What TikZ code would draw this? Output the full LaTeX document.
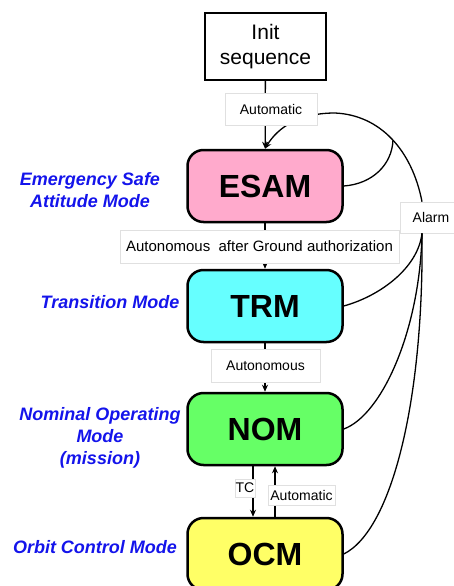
\documentclass[tikz,border=0pt]{standalone}
\usepackage{fontspec}
\setmainfont{Liberation Sans}
\usetikzlibrary{arrows.meta}
\definecolor{esampink}{RGB}{255,170,204}
\definecolor{trmcyan}{RGB}{102,255,255}
\definecolor{nomgreen}{RGB}{102,255,102}
\definecolor{ocmyellow}{RGB}{255,255,102}
\definecolor{modeblue}{RGB}{20,20,235}

\begin{document}
\begin{tikzpicture}[x=1pt, y=-1pt, >={Stealth[length=7pt,width=6pt]},
  mode/.style={draw, line width=2.5pt, rounded corners=16pt, minimum width=155pt,
    minimum height=72pt, inner sep=0pt, font=\fontsize{32}{36}\selectfont\bfseries},
  lbl/.style={draw=black!12, line width=0.6pt, fill=white, inner sep=0pt,
    font=\fontsize{14}{16}\selectfont},
  side/.style={text=modeblue, align=center, font=\fontsize{18}{22}\selectfont\bfseries\itshape},
  link/.style={line width=1.3pt}]
  \useasboundingbox (0,0) rectangle (453,586);
  \node[draw, line width=2pt, minimum width=121pt, minimum height=67pt, inner sep=0pt,
    align=center, font=\fontsize{21}{25}\selectfont] (init) at (265.5,46.5) {Init\\sequence};
  \node[mode, fill=esampink]  (esam) at (265,186) {ESAM};
  \node[mode, fill=trmcyan]   (trm)  at (265,306) {TRM};
  \node[mode, fill=nomgreen]  (nom)  at (265,429) {NOM};
  \node[mode, fill=ocmyellow] (ocm)  at (265,554) {OCM};
  \node[lbl, minimum width=62pt, minimum height=31pt] (alarm) at (431,217.5) {Alarm};
  % mode names
  \node[side] (esaml) at (90,190)  {Emergency Safe\\Attitude Mode};
  \node[side] (trml)  at (110,302) {Transition Mode};
  \node[side] (noml)  at (100,438) {Nominal Operating\\Mode\\(mission)};
  \node[side] (ocml)  at (95,547)  {Orbit Control Mode};
  % transitions
  \draw[link,->] (init) -- (esam);
  \draw[link,->] (esam) -- (trm);
  \draw[link,->] (trm) -- (nom);
  \draw[link,->] ([xshift=-12pt]nom.south) -- ([xshift=-12pt]ocm.north);
  \draw[link,->] ([xshift=10pt]ocm.north) -- ([xshift=10pt]nom.south);
  % alarm paths
  \coordinate (merge) at (393,140);
  \draw[link] (esam.east) .. controls (372,184) and (392,165) .. (merge);
  \draw[link] (trm.east) .. controls (380,296) and (418,268) .. ([xshift=-9pt]alarm.south);
  \draw[link] (nom.east) .. controls (382,415) and (420,330) .. ([xshift=-9pt]alarm.south);
  \draw[link] (ocm.east) .. controls (392,530) and (424,400) .. ([xshift=-9pt]alarm.south);
  \draw[link,->] ([xshift=-9pt]alarm.north) .. controls (412,150) and (380,115) .. (335,113)
    .. controls (300,113) and (278,127) .. (esam.north);
  % labels
  \node[lbl, minimum width=92pt, minimum height=32pt]  (auto1) at (271,109)     {Automatic};
  \node[lbl, minimum width=279pt, minimum height=33pt, font=\fontsize{15}{17}\selectfont]
    (autgr) at (259.5,246.5) {Autonomous\ \ after Ground authorization};
  \node[lbl, minimum width=109pt, minimum height=33pt] (auton) at (265.5,365.5) {Autonomous};
  \node[lbl, minimum width=20pt, minimum height=18pt]  (tc)    at (245,488)     {TC};
  \node[lbl, minimum width=67pt, minimum height=20pt]  (auto2) at (301.5,495)   {Automatic};
\end{tikzpicture}
\end{document}
